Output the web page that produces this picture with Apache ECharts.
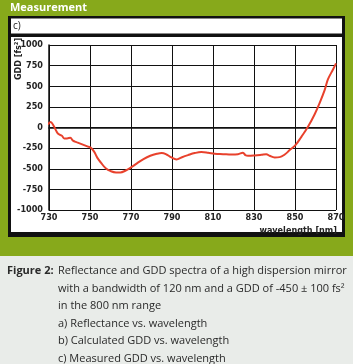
<!DOCTYPE html>
<html><head><meta charset="utf-8">
<script src="https://cdn.jsdelivr.net/npm/echarts@6/dist/echarts.min.js"></script>
<style>html,body{margin:0;padding:0;background:#e9ece9;}#c{width:353px;height:364px;}</style>
</head><body><div id="c"></div>
<script>
const wavelength = [729.5,730.8,732.1,733.5,734.6,736.3,737.4,738.8,740.4,741.7,743.7,746.2,748.7,750.3,752,753.6,755.3,757.8,760.2,762.7,764.8,767.2,770,772.9,776.1,779.4,782.6,785,787.3,789.7,792.2,794.6,797.8,801.1,804.3,807.6,810.8,814.9,819,822.2,824.6,825.8,827.1,830.3,833.5,836,837.6,840.1,842.5,845,847.4,850.2,853.1,856.4,859.6,862.1,864.5,866.1,868.6,870];
const gdd = [35,68,28,-40,-80,-100,-132,-132,-124,-160,-180,-204,-228,-244,-292,-368,-425,-498,-530,-544,-544,-524,-484,-435,-383,-343,-319,-310,-327,-363,-387,-363,-335,-310,-298,-306,-319,-323,-327,-323,-306,-335,-343,-339,-331,-323,-343,-363,-359,-327,-274,-214,-113,12,161,302,456,585,706,778];
const xTicks = [730,750,770,790,810,830,850,870];
const yTicks = [-1000,-750,-500,-250,0,250,500,750,1000];
const captionLines = [
  "with a bandwidth of 120 nm and a GDD of -450 ± 100 fs²",
  "in the 800 nm range",
  "a) Reflectance vs. wavelength",
  "b) Calculated GDD vs. wavelength",
  "c) Measured GDD vs. wavelength"
];
const chart = echarts.init(document.getElementById('c'));
const FONT = '"DejaVu Sans Condensed",Roboto,sans-serif';
const CAP = '"Open Sans","Noto Sans",sans-serif';
const graphics = [
  {type:'rect', shape:{x:0,y:0,width:353,height:256}, style:{fill:'#87a91b'}, z:-10},
  {type:'rect', shape:{x:8,y:16,width:337,height:221}, style:{fill:'#111'}, z:-9},
  {type:'rect', shape:{x:11,y:18.5,width:331,height:15}, style:{fill:'#fff'}, z:-8},
  {type:'rect', shape:{x:11,y:37,width:331,height:195}, style:{fill:'#fff'}, z:-8},
  {type:'text', x:10, y:8, style:{text:'Measurement', fill:'#fff', font:'bold 11px '+CAP, verticalAlign:'middle'}},
  {type:'text', x:13, y:26, style:{text:'c)', fill:'#222', font:'10px '+CAP, verticalAlign:'middle'}},
  {type:'text', x:19, y:59, rotation:Math.PI/2, style:{text:'GDD [fs²]', fill:'#222', font:'bold 9px '+FONT, align:'center', verticalAlign:'middle'}},
  {type:'text', x:337, y:231, style:{text:'wavelength [nm]', fill:'#222', font:'bold 9px '+FONT, align:'right', verticalAlign:'middle'}},
  {type:'text', x:7, y:271, style:{text:'Figure 2:', fill:'#2a2a2a', font:'bold 11px '+CAP, verticalAlign:'middle'}},
  {type:'text', x:58, y:271, style:{text:'Reflectance and GDD spectra of a high dispersion mirror', fill:'#2a2a2a', font:'11px '+CAP, verticalAlign:'middle'}}
];
captionLines.forEach((t,i)=>graphics.push({type:'text', x:58, y:288.5+i*17.5, style:{text:t, fill:'#2a2a2a', font:'11px '+CAP, verticalAlign:'middle'}}));
chart.setOption({
  animation:false,
  graphic: graphics,
  grid:{left:49, top:45, width:287, height:165, containLabel:false},
  xAxis:{type:'value', min:730, max:870, interval:20,
    axisLine:{show:true, lineStyle:{color:'#111', width:1.5}},
    axisTick:{show:false},
    splitLine:{show:true, lineStyle:{color:'#111', width:1}},
    axisLabel:{color:'#222', fontSize:9, fontWeight:'bold', fontFamily:FONT, margin:3,
      formatter: v => xTicks.includes(v) ? String(v) : ''}},
  yAxis:{type:'value', min:-1000, max:1000, interval:250,
    axisLine:{show:true, lineStyle:{color:'#111', width:1.5}},
    axisTick:{show:false},
    splitLine:{show:true, lineStyle:{color:'#111', width:1}},
    axisLabel:{color:'#222', fontSize:9, fontWeight:'bold', fontFamily:FONT, margin:6,
      formatter: v => yTicks.includes(v) ? String(v) : ''}},
  series:[{type:'line', data: wavelength.map((w,i)=>[w,gdd[i]]), smooth:0.4, showSymbol:false,
    lineStyle:{color:'#e8412c', width:2}, clip:true}]
});
</script></body></html>
